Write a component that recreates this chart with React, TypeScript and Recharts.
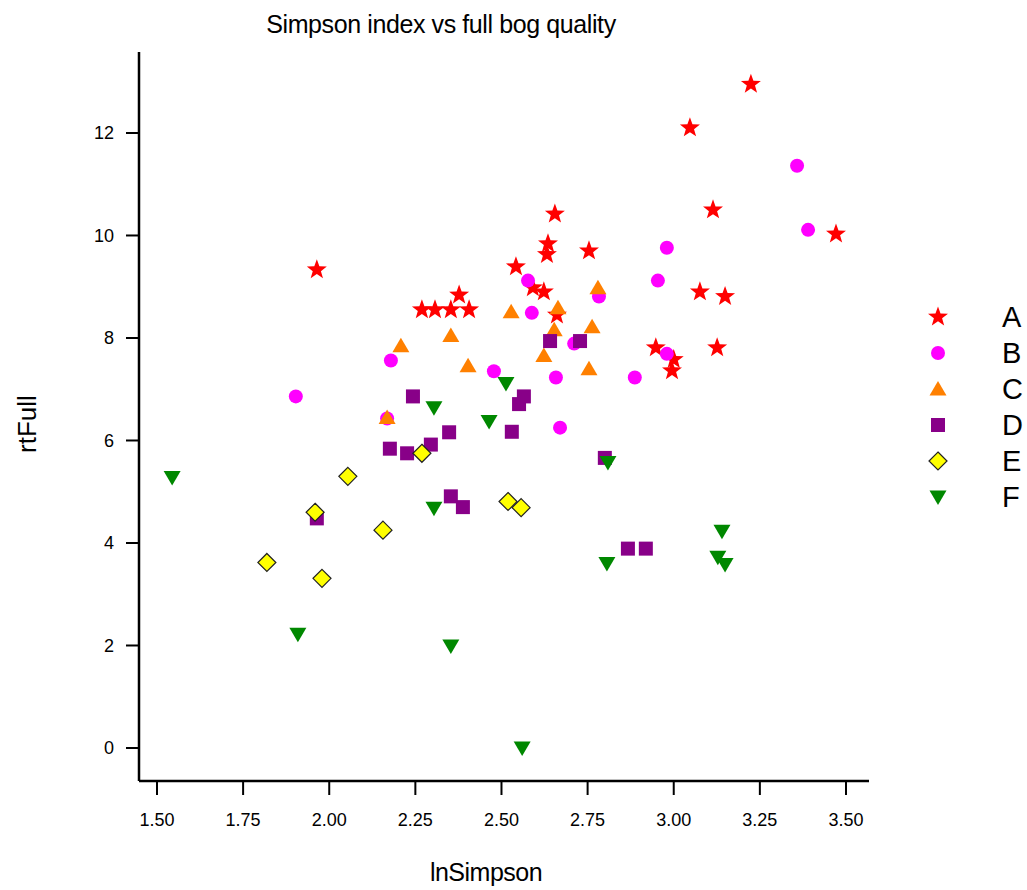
import React from 'react';
import { ScatterChart, Scatter, XAxis, YAxis, Legend, Label } from 'recharts';

// lnSimpson / rtFull pairs per group
const groupA = [
  [1.964, 9.33], [2.269, 8.55], [2.307, 8.55], [2.353, 8.55], [2.377, 8.84], [2.406, 8.55],
  [2.542, 9.39], [2.591, 8.98], [2.623, 8.9], [2.635, 9.84], [2.632, 9.63], [2.655, 10.42],
  [2.661, 8.45], [2.754, 9.7], [2.948, 7.81], [2.995, 7.36], [3.0, 7.58], [3.047, 12.1],
  [3.076, 8.9], [3.114, 10.5], [3.126, 7.81], [3.149, 8.81], [3.224, 12.95], [3.471, 10.03],
];
const groupB = [
  [1.903, 6.86], [2.168, 6.43], [2.179, 7.56], [2.478, 7.35], [2.577, 9.12], [2.588, 8.49],
  [2.658, 7.23], [2.67, 6.25], [2.711, 7.89], [2.783, 8.81], [2.887, 7.23], [2.954, 9.12],
  [2.98, 9.76], [2.98, 7.69], [3.358, 11.36], [3.39, 10.11],
];
const groupC = [
  [2.168, 6.45], [2.208, 7.85], [2.353, 8.05], [2.403, 7.46], [2.528, 8.51], [2.623, 7.66],
  [2.653, 8.16], [2.664, 8.59], [2.754, 7.4], [2.763, 8.22], [2.78, 8.98],
];
const groupD = [
  [1.964, 4.48], [2.176, 5.84], [2.226, 5.75], [2.243, 6.86], [2.295, 5.92], [2.348, 6.16],
  [2.353, 4.91], [2.388, 4.7], [2.53, 6.17], [2.551, 6.71], [2.565, 6.86], [2.641, 7.94],
  [2.728, 7.94], [2.8, 5.66], [2.867, 3.89], [2.919, 3.89],
];
const groupE = [
  [1.819, 3.62], [1.959, 4.6], [1.979, 3.31], [2.054, 5.3], [2.156, 4.25], [2.269, 5.75],
  [2.519, 4.81], [2.557, 4.69],
];
const groupF = [
  [1.544, 5.28], [1.909, 2.22], [2.304, 6.64], [2.304, 4.68], [2.353, 1.99], [2.464, 6.37],
  [2.513, 7.11], [2.56, 0.0], [2.806, 3.6], [2.809, 5.57], [3.128, 3.72], [3.14, 4.23], [3.149, 3.58],
];

const xTicks = [1.5, 1.75, 2.0, 2.25, 2.5, 2.75, 3.0, 3.25, 3.5];
const yTicks = [0, 2, 4, 6, 8, 10, 12];

const FONT = '"Liberation Sans", Arial, Helvetica, sans-serif';

type Kind = 'star' | 'circle' | 'up' | 'square' | 'diamond' | 'down';

const Marker = ({ kind, cx, cy, color }: { kind: Kind; cx: number; cy: number; color: string }) => {
  if (kind === 'star') {
    const pts: string[] = [];
    for (let i = 0; i < 10; i++) {
      const r = i % 2 === 0 ? 10.5 : 4.3;
      const a = (-90 + i * 36) * Math.PI / 180;
      pts.push(`${cx + r * Math.cos(a)},${cy + r * Math.sin(a)}`);
    }
    return <polygon points={pts.join(' ')} fill={color} />;
  }
  if (kind === 'circle') return <circle cx={cx} cy={cy} r={7} fill={color} />;
  if (kind === 'up')
    return <polygon points={`${cx},${cy - 8} ${cx - 8.5},${cy + 6.5} ${cx + 8.5},${cy + 6.5}`} fill={color} />;
  if (kind === 'square') return <rect x={cx - 7} y={cy - 7} width={14} height={14} fill={color} />;
  if (kind === 'diamond')
    return (
      <polygon
        points={`${cx},${cy - 9} ${cx + 9},${cy} ${cx},${cy + 9} ${cx - 9},${cy}`}
        fill={color}
        stroke="#222"
        strokeWidth={1.2}
      />
    );
  return <polygon points={`${cx - 8.5},${cy - 6.5} ${cx + 8.5},${cy - 6.5} ${cx},${cy + 8}`} fill={color} />;
};

const series: { name: string; kind: Kind; color: string; points: number[][] }[] = [
  { name: 'A', kind: 'star', color: '#ff0000', points: groupA },
  { name: 'B', kind: 'circle', color: '#ff00ff', points: groupB },
  { name: 'C', kind: 'up', color: '#ff8000', points: groupC },
  { name: 'D', kind: 'square', color: '#880088', points: groupD },
  { name: 'E', kind: 'diamond', color: '#ffff00', points: groupE },
  { name: 'F', kind: 'down', color: '#008800', points: groupF },
];

const LegendBox = () => (
  <svg width={102} height={220}>
    {series.map((s, i) => (
      <g key={s.name}>
        <Marker kind={s.kind} cx={13} cy={18 + i * 36} color={s.color} />
        <text x={77} y={18 + i * 36} dominantBaseline="central" fontSize={29} fontFamily={FONT} fill="#000">
          {s.name}
        </text>
      </g>
    ))}
  </svg>
);

export default function App() {
  return (
    <div style={{ position: 'absolute', left: 0, top: 0, width: 1027, height: 890, background: '#fff' }}>
      <div
        style={{
          position: 'absolute',
          left: 0,
          top: 10,
          width: 882,
          textAlign: 'center',
          fontFamily: FONT,
          fontSize: 25,
          letterSpacing: -0.4,
          color: '#000',
        }}
      >
        Simpson index vs full bog quality
      </div>
      <ScatterChart width={1027} height={890} margin={{ top: 52, right: 158, bottom: 0, left: 0 }}>
        <XAxis
          type="number"
          dataKey="x"
          domain={[1.4478, 3.5668]}
          ticks={xTicks}
          allowDataOverflow
          height={109}
          tickFormatter={(v: number) => v.toFixed(2)}
          tick={{ fill: '#000', fontSize: 18, fontFamily: FONT }}
          tickSize={14}
          tickMargin={18}
          axisLine={{ stroke: '#000', strokeWidth: 2.5 }}
          tickLine={{ stroke: '#000', strokeWidth: 2 }}
        >
          <Label
            content={() => (
              <text x={486} y={872} textAnchor="middle" dominantBaseline="central" fontSize={25} fontFamily={FONT} letterSpacing={-0.5} fill="#000">
                lnSimpson
              </text>
            )}
          />
        </XAxis>
        <YAxis
          type="number"
          dataKey="y"
          domain={[-0.644, 13.58]}
          ticks={yTicks}
          allowDataOverflow
          width={139}
          tick={{ fill: '#000', fontSize: 18, fontFamily: FONT }}
          tickSize={13}
          tickMargin={12}
          axisLine={{ stroke: '#000', strokeWidth: 2.5 }}
          tickLine={{ stroke: '#000', strokeWidth: 2 }}
        >
          <Label
            content={() => (
              <text x={27} y={424} transform="rotate(-90 27 424)" textAnchor="middle" dominantBaseline="central" fontSize={26} fontFamily={FONT} fill="#000">
                rtFull
              </text>
            )}
          />
        </YAxis>
        <Legend
          layout="vertical"
          align="center"
          verticalAlign="middle"
          wrapperStyle={{ left: 925, top: 299, width: 102 }}
          content={() => <LegendBox />}
        />
        {series.map((s) => (
          <Scatter
            key={s.name}
            name={s.name}
            data={s.points.map(([x, y]) => ({ x, y }))}
            fill={s.color}
            isAnimationActive={false}
            shape={(p: any) => <Marker kind={s.kind} cx={p.cx} cy={p.cy} color={s.color} />}
          />
        ))}
      </ScatterChart>
    </div>
  );
}
